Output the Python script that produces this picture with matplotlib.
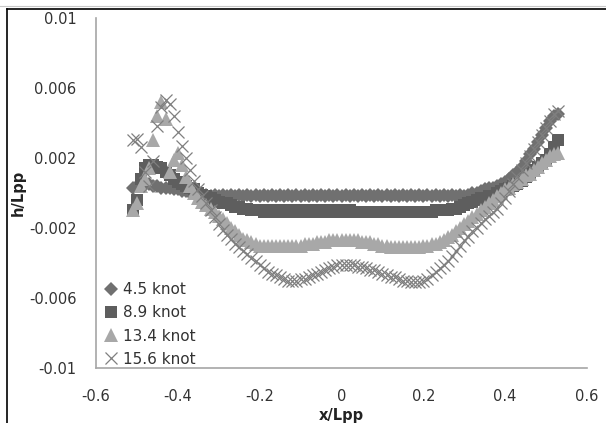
import numpy as np
import matplotlib
matplotlib.use("Agg")
import matplotlib.pyplot as plt
from matplotlib.lines import Line2D

# ---- data (x/Lpp positions and h/Lpp values, values in units of 1e-4) ----
x_lpp = [
    -0.51, -0.50, -0.49, -0.48, -0.47, -0.46, -0.45, -0.44, -0.43, -0.42,
    -0.41, -0.40, -0.39, -0.38, -0.37, -0.36, -0.35, -0.34, -0.33, -0.32,
    -0.31, -0.30, -0.29, -0.28, -0.27, -0.26, -0.25, -0.24, -0.23, -0.22,
    -0.21, -0.20, -0.19, -0.18, -0.17, -0.16, -0.15, -0.14, -0.13, -0.12,
    -0.11, -0.10, -0.09, -0.08, -0.07, -0.06, -0.05, -0.04, -0.03, -0.02,
    -0.01, 0.00, 0.01, 0.02, 0.03, 0.04, 0.05, 0.06, 0.07, 0.08,
    0.09, 0.10, 0.11, 0.12, 0.13, 0.14, 0.15, 0.16, 0.17, 0.18,
    0.19, 0.20, 0.21, 0.22, 0.23, 0.24, 0.25, 0.26, 0.27, 0.28,
    0.29, 0.30, 0.31, 0.32, 0.33, 0.34, 0.35, 0.36, 0.37, 0.38,
    0.39, 0.40, 0.41, 0.42, 0.43, 0.44, 0.45, 0.46, 0.47, 0.48,
    0.49, 0.50, 0.51, 0.52, 0.53,
]

h_4_5 = [
    3, 4, 5, 5, 5, 4, 4, 3, 3, 3,
    2, 2, 1, 1, 0, 0, -1, -1, -1, -2,
    -1, -2, -1, -2, -1, -2, -1, -2, -1, -2,
    -1, -2, -1, -2, -1, -2, -1, -2, -1, -2,
    -1, -2, -1, -2, -1, -2, -1, -2, -1, -2,
    -1, -2, -1, -2, -1, -2, -1, -2, -1, -2,
    -1, -2, -1, -2, -1, -2, -1, -2, -1, -2,
    -1, -2, -1, -2, -1, -2, -1, -2, -1, -2,
    -1, -2, -1, 0, 0, 1, 2, 3, 3, 4,
    5, 6, 8, 10, 12, 15, 18, 22, 25, 29,
    33, 37, 41, 44, 45,
]

h_8_9 = [
    -10, -4, 8, 14, 16, 16, 15, 14, 12, 10,
    8, 6, 5, 4, 3, 2, 0, -1, -2, -3,
    -4, -5, -6, -6, -7, -8, -8, -9, -9, -10,
    -10, -10, -11, -10, -11, -10, -11, -10, -11, -10,
    -11, -10, -11, -10, -11, -10, -11, -10, -11, -10,
    -11, -10, -11, -10, -11, -11, -11, -11, -11, -11,
    -11, -11, -11, -11, -11, -11, -11, -11, -11, -11,
    -11, -11, -11, -11, -10, -10, -10, -10, -9, -9,
    -8, -7, -6, -5, -4, -3, -3, -2, -2, 0,
    1, 2, 3, 4, 5, 7, 9, 11, 13, 15,
    17, 19, 22, 26, 30,
]

h_13_4 = [
    -10, -6, 4, 8, 14, 30, 44, 52, 42, 12,
    19, 23, 16, 9, 4, 0, -3, -5, -7, -9,
    -11, -13, -15, -17, -20, -22, -24, -26, -27, -28,
    -29, -30, -30, -30, -30, -30, -30, -30, -30, -30,
    -30, -30, -29, -29, -29, -28, -28, -28, -27, -27,
    -27, -27, -27, -27, -27, -27, -28, -28, -28, -29,
    -29, -30, -30, -31, -31, -31, -31, -31, -31, -31,
    -31, -30, -30, -29, -29, -28, -27, -25, -24, -22,
    -20, -18, -16, -14, -12, -10, -8, -6, -4, -2,
    0, 2, 3, 5, 6, 8, 10, 11, 13, 15,
    17, 19, 21, 22, 23,
]

h_15_6 = [
    30, 31, 26, 12, 4, 18, 38, 49, 53, 51,
    44, 35, 27, 20, 13, 7, 2, -2, -6, -10,
    -14, -18, -21, -24, -26, -29, -31, -33, -35, -37,
    -39, -41, -43, -45, -46, -47, -48, -49, -50, -50,
    -50, -49, -49, -48, -47, -46, -45, -44, -43, -42,
    -41, -41, -41, -41, -41, -42, -42, -43, -44, -44,
    -45, -46, -47, -48, -48, -49, -50, -50, -51, -51,
    -51, -50, -49, -47, -45, -43, -41, -39, -36, -33,
    -30, -27, -25, -22, -20, -17, -15, -13, -11, -9,
    -6, -3, 1, 5, 9, 13, 17, 21, 25, 29,
    33, 37, 41, 45, 47,
]

series_labels = ["4.5 knot", "8.9 knot", "13.4 knot", "15.6 knot"]
x_ticks = [-0.6, -0.4, -0.2, 0, 0.2, 0.4, 0.6]
x_tick_labels = ["-0.6", "-0.4", "-0.2", "0", "0.2", "0.4", "0.6"]
y_ticks = [-0.01, -0.006, -0.002, 0.002, 0.006, 0.01]
y_tick_labels = ["-0.01", "-0.006", "-0.002", "0.002", "0.006", "0.01"]

# ---- figure ----
plt.rcParams['font.family'] = ['DejaVu Sans']
fig = plt.figure(figsize=(6.06, 4.23), dpi=100)
ax = fig.add_axes([96 / 606, 1 - 368 / 423, 491 / 606, 350 / 423])

x = np.array(x_lpp)
scale = 1e-4
styles = [
    dict(marker='D', color='#707070', ms=7.0, mew=0),
    dict(marker='s', color='#5e5e5e', ms=8.0, mew=0),
    dict(marker='^', color='#a8a8a8', ms=9.5, mew=0),
    dict(marker='x', color='#7f7f7f', ms=9.0, mew=0.9),
]
for vals, lab, st in zip([h_4_5, h_8_9, h_13_4, h_15_6], series_labels, styles):
    ax.plot(x, np.array(vals) * scale, linestyle='none', label=lab, **st)

ax.set_xlim(-0.6, 0.6)
ax.set_ylim(-0.01, 0.01)
ax.set_xticks(x_ticks)
ax.set_xticklabels(x_tick_labels)
ax.set_yticks(y_ticks)
ax.set_yticklabels(y_tick_labels)
ax.tick_params(axis='both', length=0, labelsize=10.5, labelcolor='#333333')
ax.tick_params(axis='y', pad=14)
ax.tick_params(axis='x', pad=15)
for s in ['top', 'right']:
    ax.spines[s].set_visible(False)
for s in ['left', 'bottom']:
    ax.spines[s].set_color('#a6a6a6')
    ax.spines[s].set_linewidth(1.2)

ax.set_ylabel('h/Lpp', fontsize=10.5, fontweight='bold', color='#222222')
ax.yaxis.set_label_coords((26 - 96) / 491, 0.5)
ax.set_xlabel('x/Lpp', fontsize=10.5, fontweight='bold', color='#222222')
ax.xaxis.set_label_coords(0.5, -(408 - 368) / 350)

leg = ax.legend(loc='lower left', bbox_to_anchor=(0.014, 0.004), frameon=False,
                borderaxespad=0, borderpad=0, handlelength=1.0, handletextpad=0.3,
                labelspacing=0.53, fontsize=11)
for t in leg.get_texts():
    t.set_color('#333333')

# outer frame lines (left and top)
fig.add_artist(Line2D([7 / 606, 7 / 606], [0, 1 - 9 / 423], transform=fig.transFigure,
                      color='black', lw=1.2))
fig.add_artist(Line2D([7 / 606, 1], [1 - 9 / 423, 1 - 9 / 423], transform=fig.transFigure,
                      color='black', lw=1.2))
fig.add_artist(Line2D([0, 1], [1 - 6 / 423, 1 - 6 / 423], transform=fig.transFigure,
                      color='#c8c8c8', lw=0.8))

fig.savefig('out.png', dpi=100)
